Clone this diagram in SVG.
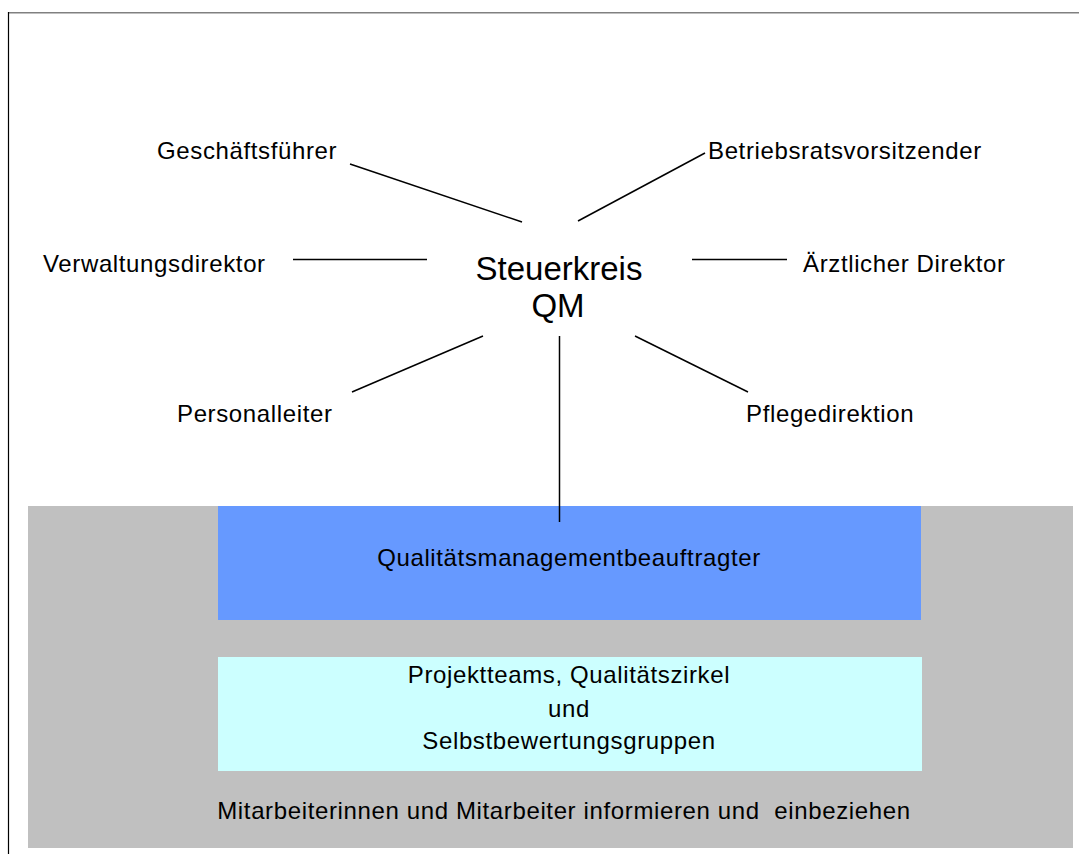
<svg xmlns="http://www.w3.org/2000/svg" width="1079" height="854" viewBox="0 0 1079 854">
<style>
text{font-family:"Liberation Sans",Arial,sans-serif;fill:#000;white-space:pre}
.l{font-size:24px;letter-spacing:0.63px}
.c{text-anchor:middle}
.big{font-size:33px}
.cn line{stroke:#000;stroke-width:1.5}
</style>
<rect width="1079" height="854" fill="#fff"/>
<g id="frame">
<line x1="8" y1="12.75" x2="1079" y2="12.75" stroke="#808080" stroke-width="1.5"/>
<line x1="8.5" y1="12" x2="8.5" y2="854" stroke="#000" stroke-width="1.2"/>
</g>
<g id="mitarbeiter">
<rect x="28" y="506" width="1045" height="342" fill="#C0C0C0"/>
<text class="l c" x="564" y="819">Mitarbeiterinnen und Mitarbeiter informieren und  einbeziehen</text>
</g>
<g id="qmb">
<rect x="218" y="506" width="703" height="114" fill="#6699FF"/>
<text class="l c" x="569" y="566">Qualitätsmanagementbeauftragter</text>
</g>
<g id="projektteams">
<rect x="218" y="657" width="704" height="114" fill="#CCFFFF"/>
<text class="l c" x="569" y="683">Projektteams, Qualitätszirkel</text>
<text class="l c" x="569" y="717">und</text>
<text class="l c" x="569" y="749">Selbstbewertungsgruppen</text>
</g>
<g id="steuerkreis">
<text class="big c" x="559" y="280">Steuerkreis</text>
<text class="big c" x="558" y="317">QM</text>
</g>
<g id="geschaeftsfuehrer"><text class="l" x="157" y="159">Geschäftsführer</text></g>
<g id="betriebsrat"><text class="l" x="708" y="159">Betriebsratsvorsitzender</text></g>
<g id="verwaltungsdirektor"><text class="l" x="43" y="272">Verwaltungsdirektor</text></g>
<g id="aerztlicher"><text class="l" x="803" y="272">Ärztlicher Direktor</text></g>
<g id="personalleiter"><text class="l" x="177" y="422">Personalleiter</text></g>
<g id="pflegedirektion"><text class="l" x="746" y="422">Pflegedirektion</text></g>
<g id="connectors" class="cn">
<line x1="350" y1="164" x2="522" y2="222"/>
<line x1="578" y1="221" x2="705" y2="153"/>
<line x1="293" y1="259.5" x2="427" y2="259.5"/>
<line x1="692" y1="259.5" x2="787" y2="259.5"/>
<line x1="352" y1="392" x2="483" y2="336"/>
<line x1="635" y1="336" x2="748" y2="392"/>
<line x1="559.5" y1="336" x2="559.5" y2="522"/>
</g>
</svg>
